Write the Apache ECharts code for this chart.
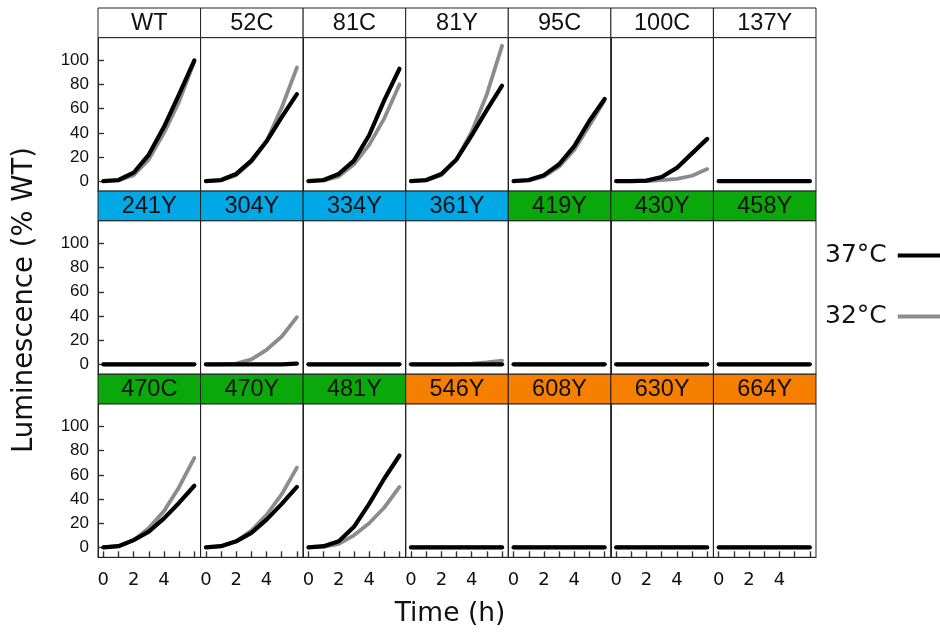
<!DOCTYPE html>
<html>
<head>
<meta charset="utf-8">
<script src="https://cdn.jsdelivr.net/npm/echarts@6/dist/echarts.min.js"></script>
<style>html,body{margin:0;padding:0;background:#fff;}#c{width:940px;height:632px;}</style>
</head>
<body>
<div id="c"></div>
<script>
// ---- data ----
const times = [0, 1, 2, 3, 4, 5, 6];
const mutants = ['WT','52C','81C','81Y','95C','100C','137Y',
                 '241Y','304Y','334Y','361Y','419Y','430Y','458Y',
                 '470C','470Y','481Y','546Y','608Y','630Y','664Y'];
const stripGroup = ['none','none','none','none','none','none','none',
                    'blue','blue','blue','blue','green','green','green',
                    'green','green','green','orange','orange','orange','orange'];
const seriesNames = ['37°C', '32°C'];
const yTicks = [0, 20, 40, 60, 80, 100];
const xTicks = [0, 1, 2, 3, 4, 5, 6];
const xLabels = [0, 2, 4];
// luminescence (% WT) at 37°C, one row per mutant
const lum37 = [
  [0, 1, 7, 22, 45, 72, 100],   // WT
  [0, 1, 6, 17, 33, 53, 72],    // 52C
  [0, 1, 6, 17, 38, 67, 93],    // 81C
  [0, 1, 6, 18, 38, 59, 79],    // 81Y
  [0, 1, 5, 14, 29, 50, 68],    // 95C
  [0, 0, 0.5, 3.5, 11, 23, 35], // 100C
  [0, 0, 0, 0, 0, 0, 0],        // 137Y
  [0, 0, 0, 0, 0, 0, 0],        // 241Y
  [0, 0, 0, 0, 0, 0, 0.5],      // 304Y
  [0, 0, 0, 0, 0, 0, 0],        // 334Y
  [0, 0, 0, 0, 0, 0, 0],        // 361Y
  [0, 0, 0, 0, 0, 0, 0],        // 419Y
  [0, 0, 0, 0, 0, 0, 0],        // 430Y
  [0, 0, 0, 0, 0, 0, 0],        // 458Y
  [0, 1, 6, 13, 24, 37, 51],    // 470C
  [0, 1, 5, 12, 23, 36, 50],    // 470Y
  [0, 1, 5, 17, 36, 57, 76],    // 481Y
  [0, 0, 0, 0, 0, 0, 0],        // 546Y
  [0, 0, 0, 0, 0, 0, 0],        // 608Y
  [0, 0, 0, 0, 0, 0, 0],        // 630Y
  [0, 0, 0, 0, 0, 0, 0]         // 664Y
];
// luminescence (% WT) at 32°C
const lum32 = [
  [0, 0.5, 5, 18, 40, 66, 99],  // WT
  [0, 0.5, 5, 16, 33, 61, 94],  // 52C
  [0, 0.5, 4, 14, 30, 52, 80],  // 81C
  [0, 0.5, 5, 18, 41, 72, 112], // 81Y
  [0, 0.5, 4, 12, 26, 46, 67],  // 95C
  [0, 0, 0, 0.8, 2, 4.5, 10],   // 100C
  [0, 0, 0, 0, 0, 0, 0],        // 137Y
  [0, 0, 0, 0, 0, 0, 0],        // 241Y
  [0, 0, 0.5, 4, 12, 23, 39],   // 304Y
  [0, 0, 0, 0, 0, 0, 0],        // 334Y
  [0, 0, 0, 0, 0.5, 1.5, 3],    // 361Y
  [0, 0, 0, 0, 0, 0, 0],        // 419Y
  [0, 0, 0, 0, 0, 0, 0],        // 430Y
  [0, 0, 0, 0, 0, 0, 0],        // 458Y
  [0, 1, 6, 16, 30, 50, 74],    // 470C
  [0, 1, 5, 14, 27, 44, 66],    // 470Y
  [0, 0.5, 3, 10, 20, 33, 50],  // 481Y
  [0, 0, 0, 0, 0, 0, 0],        // 546Y
  [0, 0, 0, 0, 0, 0, 0],        // 608Y
  [0, 0, 0, 0, 0, 0, 0],        // 630Y
  [0, 0, 0, 0, 0, 0, 0]         // 664Y
];

// ---- layout / style ----
const stripColors = { none: '#ffffff', blue: '#00a8e6', green: '#0aa80a', orange: '#f67f00' };
const lineColors = { '37°C': '#000000', '32°C': '#8c8c8c' };
const lineWidths = { '37°C': 4.2, '32°C': 3.8 };
const nCols = 7, nRows = 3;
const left0 = 98, colW = 102.57;
const top0 = 8, rowH = 183.1, stripH = 29.6, plotH = rowH - stripH;
const borderColor = '#222';

const grids = [], xAxes = [], yAxes = [], series = [], graphics = [];
mutants.forEach((name, i) => {
  const r = Math.floor(i / nCols), c = i % nCols;
  const gx = left0 + c * colW;
  const gy = top0 + r * rowH + stripH;
  grids.push({ left: gx, top: gy, width: colW, height: plotH, show: true,
               borderColor: borderColor, borderWidth: 1 });
  const bottomRow = r === nRows - 1, leftCol = c === 0;
  xAxes.push({
    type: 'value', gridIndex: i, min: -0.35, max: 6.41,
    axisLine: { show: true, onZero: false, lineStyle: { color: borderColor, width: 1 } },
    splitLine: { show: false },
    axisTick: { show: bottomRow, inside: true, length: 6, customValues: xTicks,
                lineStyle: { color: '#333', width: 1.4 } },
    axisLabel: { show: bottomRow, customValues: xLabels, margin: 14,
                 fontFamily: 'DejaVu Sans', fontSize: 18, color: '#111' }
  });
  yAxes.push({
    type: 'value', gridIndex: i, min: -8.2, max: 118.8,
    axisLine: { show: true, onZero: false, lineStyle: { color: borderColor, width: 1 } },
    splitLine: { show: false },
    axisTick: { show: leftCol, inside: true, length: 6, customValues: yTicks,
                lineStyle: { color: '#333', width: 1.4 } },
    axisLabel: { show: leftCol, customValues: yTicks, margin: 9,
                 fontFamily: 'Liberation Sans', fontSize: 17, color: '#111' }
  });
  [lum32, lum37].forEach((arr, k) => {
    const sname = k === 0 ? seriesNames[1] : seriesNames[0];
    series.push({
      type: 'line', name: sname, xAxisIndex: i, yAxisIndex: i,
      data: times.map((t, j) => [t, arr[i][j]]),
      showSymbol: false, symbol: 'none', silent: true, animation: false,
      z: k === 0 ? 2 : 3,
      itemStyle: { color: lineColors[sname] },
      lineStyle: { color: lineColors[sname], width: lineWidths[sname], cap: 'round', join: 'round' }
    });
  });
  // strip
  graphics.push({
    type: 'rect', shape: { x: gx, y: top0 + r * rowH, width: colW, height: stripH },
    style: { fill: stripColors[stripGroup[i]], stroke: borderColor, lineWidth: 1 }, z: 10
  });
  graphics.push({
    type: 'text', x: gx + colW / 2, y: top0 + r * rowH + stripH / 2 + 1,
    style: { text: name, fill: '#111', font: '23.5px "Liberation Sans", Arial, sans-serif',
             align: 'center', verticalAlign: 'middle' }, z: 11
  });
});

graphics.push({
  type: 'text', x: 25, y: 300, rotation: Math.PI / 2,
  style: { text: 'Luminescence (% WT)', fill: '#111', font: '27.5px "DejaVu Sans", sans-serif',
           align: 'center', verticalAlign: 'middle' }
});
graphics.push({
  type: 'text', x: 450, y: 614,
  style: { text: 'Time (h)', fill: '#111', font: '26.5px "DejaVu Sans", sans-serif',
           align: 'center', verticalAlign: 'middle' }
});

const chart = echarts.init(document.getElementById('c'), null, { renderer: 'canvas' });
chart.setOption({
  animation: false,
  backgroundColor: '#fff',
  grid: grids, xAxis: xAxes, yAxis: yAxes, series: series,
  legend: {
    data: seriesNames, orient: 'vertical', left: 820, top: 238, align: 'right',
    icon: 'rect', itemWidth: 46, itemHeight: 4, itemGap: 36,
    textStyle: { fontFamily: 'DejaVu Sans', fontSize: 25, color: '#111', padding: [0, 6, 0, 0] },
    selectedMode: false
  },
  graphic: graphics
});
</script>
</body>
</html>
